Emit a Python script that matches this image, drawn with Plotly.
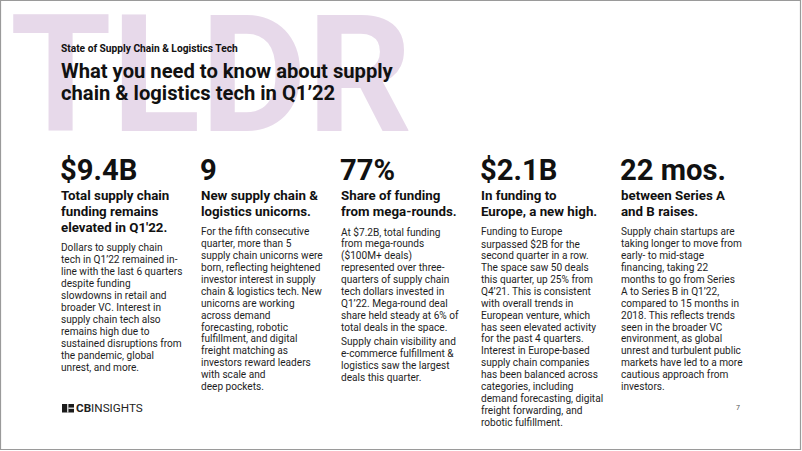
import plotly.graph_objects as go

# ---------------------------------------------------------------------------
# Slide content
# ---------------------------------------------------------------------------

watermark = "TLDR"
kicker = "State of Supply Chain & Logistics Tech"
title_lines = [
    "What you need to know about supply",
    "chain & logistics tech in Q1’22",
]

big_numbers = ["$9.4B", "9", "77%", "$2.1B", "22 mos."]

headlines = [
    ["Total supply chain", "funding remains", "elevated in Q1'22."],
    ["New supply chain &", "logistics unicorns."],
    ["Share of funding", "from mega-rounds."],
    ["In funding to", "Europe, a new high."],
    ["between Series A", "and B raises."],
]

# one list of paragraphs per column, each paragraph a list of lines
bodies = [
    [[
        "Dollars to supply chain",
        "tech in Q1’22 remained in-",
        "line with the last 6 quarters",
        "despite funding",
        "slowdowns in retail and",
        "broader VC. Interest in",
        "supply chain tech also",
        "remains high due to",
        "sustained disruptions from",
        "the pandemic, global",
        "unrest, and more.",
    ]],
    [[
        "For the fifth consecutive",
        "quarter, more than 5",
        "supply chain unicorns were",
        "born, reflecting heightened",
        "investor interest in supply",
        "chain & logistics tech. New",
        "unicorns are working",
        "across demand",
        "forecasting, robotic",
        "fulfillment, and digital",
        "freight matching as",
        "investors reward leaders",
        "with scale and",
        "deep pockets.",
    ]],
    [
        [
            "At $7.2B, total funding",
            "from mega-rounds",
            "($100M+ deals)",
            "represented over three-",
            "quarters of supply chain",
            "tech dollars invested in",
            "Q1’22. Mega-round deal",
            "share held steady at 6% of",
            "total deals in the space.",
        ],
        [
            "Supply chain visibility and",
            "e-commerce fulfillment &",
            "logistics saw the largest",
            "deals this quarter.",
        ],
    ],
    [[
        "Funding to Europe",
        "surpassed $2B for the",
        "second quarter in a row.",
        "The space saw 50 deals",
        "this quarter, up 25% from",
        "Q4’21. This is consistent",
        "with overall trends in",
        "European venture, which",
        "has seen elevated activity",
        "for the past 4 quarters.",
        "Interest in Europe-based",
        "supply chain companies",
        "has been balanced across",
        "categories, including",
        "demand forecasting, digital",
        "freight forwarding, and",
        "robotic fulfillment.",
    ]],
    [[
        "Supply chain startups are",
        "taking longer to move from",
        "early- to mid-stage",
        "financing, taking 22",
        "months to go from Series",
        "A to Series B in Q1’22,",
        "compared to 15 months in",
        "2018. This reflects trends",
        "seen in the broader VC",
        "environment, as global",
        "unrest and turbulent public",
        "markets have led to a more",
        "cautious approach from",
        "investors.",
    ]],
]

page_number = "7"

# ---------------------------------------------------------------------------
# Styling
# ---------------------------------------------------------------------------

W, H = 802, 451
FONT = "Roboto"
INK = "#111111"
BODY_INK = "#1e1e1e"
LAVENDER = "#e7d9ea"

COL_X0, COL_STEP = 61, 140
NUMBER_Y = 170
HEAD_BASE0, HEAD_STEP = 200, 16.2
BODY_GAP, BODY_STEP, PARA_GAP = 19, 11.93, 2.5

annotations = []


def add_text(x, y, text, size, color=INK, weight=400):
    """Left-aligned single line, ``y`` is the vertical middle of the line."""
    annotations.append(
        dict(
            x=x,
            y=y,
            xref="x",
            yref="y",
            text=text,
            showarrow=False,
            xanchor="left",
            yanchor="middle",
            borderpad=0,
            font=dict(family=FONT, size=size, color=color, weight=weight),
        )
    )


# watermark behind the title
add_text(9, 75, watermark, 164, LAVENDER, 700)

add_text(COL_X0 - 1, 48, kicker, 10.2, INK, 700)
for i, line in enumerate(title_lines):
    add_text(COL_X0 - 1, 70.5 + 22 * i, line, 20.2, INK, 700)

for c, (num, head, paras) in enumerate(zip(big_numbers, headlines, bodies, strict=True)):
    x = COL_X0 + COL_STEP * c - 1
    add_text(x - 1, NUMBER_Y, num, 29.2, INK, 700)
    base = HEAD_BASE0
    for i, line in enumerate(head):
        base = HEAD_BASE0 + HEAD_STEP * i
        add_text(x, base - 4.7, line, 13.3, INK, 700)
    base += BODY_GAP
    for p, para in enumerate(paras):
        if p:
            base += PARA_GAP
        for line in para:
            add_text(x, base - 3.6, line, 10.1, BODY_INK, 400)
            base += BODY_STEP

# footer: logo wordmark + page number
add_text(75, 408, "<b>CB</b>INSIGHTS", 11.7, "#222222", 400)
add_text(735, 408, page_number, 7, "#555555", 400)

shapes = [
    # slide frame
    dict(type="rect", x0=0.5, y0=0.5, x1=800.5, y1=449.5,
         line=dict(color="#9a9a9a", width=1.2), fillcolor="rgba(0,0,0,0)"),
    # logo mark
    dict(type="rect", x0=62, y0=404, x1=74, y1=412.5,
         line=dict(width=0), fillcolor="#1b1b1b"),
    dict(type="rect", x0=67.2, y0=404, x1=68.4, y1=412.5,
         line=dict(width=0), fillcolor="white"),
    dict(type="rect", x0=68.4, y0=407.6, x1=74, y1=408.8,
         line=dict(width=0), fillcolor="white"),
]

fig = go.Figure()
fig.update_layout(
    width=W,
    height=H,
    margin=dict(l=0, r=0, t=0, b=0),
    paper_bgcolor="white",
    plot_bgcolor="white",
    showlegend=False,
    annotations=annotations,
    shapes=shapes,
    xaxis=dict(range=[0, W], visible=False, fixedrange=True),
    yaxis=dict(range=[H, 0], visible=False, fixedrange=True),
)

# the page's default body margin would push the slide 8px off the window
fig.write_html(
    "out.html",
    config={"displayModeBar": False},
    post_script="document.body.style.margin='0';document.body.style.overflow='hidden';",
)
